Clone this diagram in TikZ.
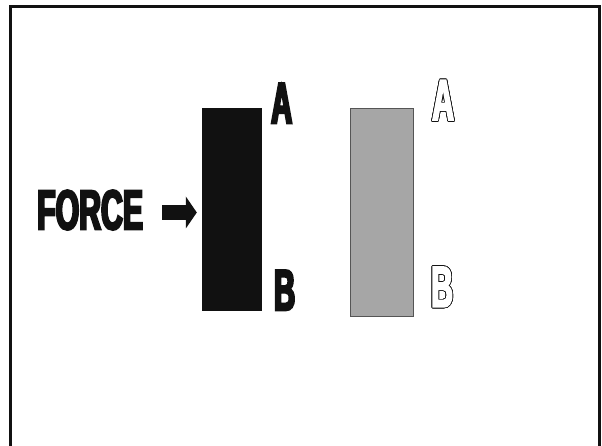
\documentclass[tikz,border=0pt]{standalone}
\usepackage{fontspec}
\usepackage{contour}
\usetikzlibrary{arrows.meta}
\newfontfamily\heavyfont{Liberation Sans}[FakeStretch=0.54,FakeBold=4]
\newfontfamily\letterfont{Liberation Sans}[FakeStretch=0.5,FakeBold=4]
\newfontfamily\hollowfont{Liberation Sans}[FakeStretch=0.52,FakeBold=3]
\definecolor{ink}{HTML}{111111}
\definecolor{slab}{HTML}{A6A6A6}
\definecolor{slabedge}{HTML}{555555}
\contourlength{0.7pt}
\begin{document}
\begin{tikzpicture}[x=1pt,y=-1pt,
  frame/.style={draw=ink, line width=3pt},
  forcelabel/.style={inner sep=0pt, anchor=north west, text=ink,
    font=\heavyfont\bfseries\fontsize{56}{56}\selectfont},
  bigletter/.style={inner sep=0pt, anchor=north west, text=ink,
    font=\letterfont\bfseries\fontsize{58}{58}\selectfont},
  hollowletter/.style={inner sep=0pt, anchor=north west,
    font=\hollowfont\bfseries\fontsize{58}{58}\selectfont},
  blackslab/.style={fill=ink, draw=none, inner sep=0pt, minimum width=60pt, minimum height=203pt},
  grayslab/.style={fill=slab, draw=slabedge, line width=0.8pt, inner sep=0pt, minimum width=63pt, minimum height=208pt},
  forcearrow/.style={draw=ink, line width=15pt,
    -{Triangle[length=11pt,width=32pt,line width=0pt]}, shorten >=5pt}
]
\useasboundingbox (0,0) rectangle (602,446);
\fill[white] (0,0) rectangle (602,446);
\draw[frame] (10.5,446) -- (10.5,6.5) -- (599.5,6.5) -- (599.5,446);

\node[blackslab] (blk) at (232,209.5) {};
\node[grayslab] (gry) at (381.5,212) {};

\node[forcelabel] (force) at (37,190) {FORCE};
\coordinate (fs) at (162,212.5);
\draw[forcearrow] (fs) -- (fs -| blk.west);

\node[bigletter] (blkA) at (271,83) {A};
\node[bigletter] (blkB) at (274,270) {B};

\node[hollowletter] (gryA) at (432,80) {\contour{ink}{\textcolor{white}{A}}};
\node[hollowletter] (gryB) at (431,266.7) {\contour{ink}{\textcolor{white}{B}}};
\end{tikzpicture}
\end{document}
